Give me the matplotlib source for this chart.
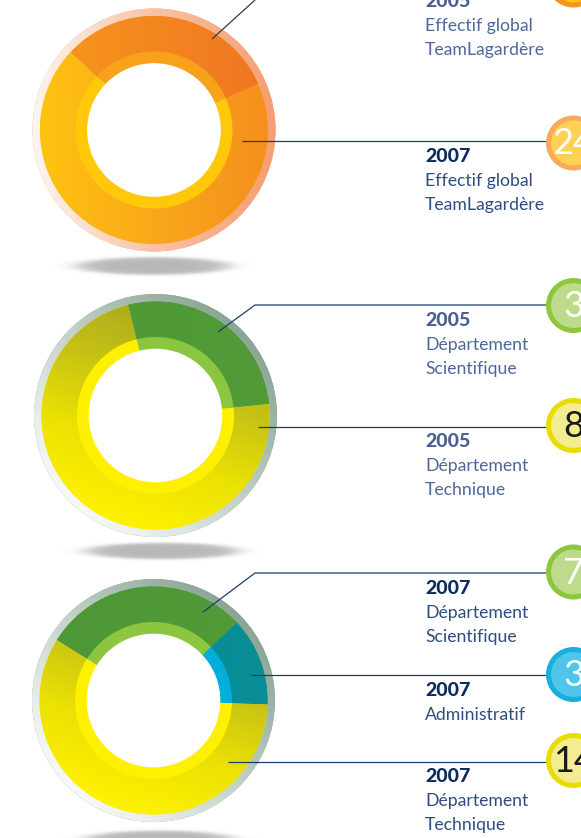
import numpy as np
import matplotlib
matplotlib.use('Agg')
import matplotlib.pyplot as plt
from matplotlib.colors import LinearSegmentedColormap
from matplotlib.patches import Circle

W, H = 581, 838

# ---------------- data ----------------
global_years = ['2005', '2007']
global_values = [11, 24]
global_label = 'Effectif global\nTeamLagardère'

dept2005_years = ['2005', '2005']
dept2005_labels = ['Département\nScientifique', 'Département\nTechnique']
dept2005_values = [3, 8]

dept2007_years = ['2007', '2007', '2007']
dept2007_labels = ['Département\nScientifique', 'Administratif', 'Département\nTechnique']
dept2007_values = [7, 3, 14]

# ---------------- styles ----------------
FONT = 'Lato'
C_2005 = '#4a5f92'
C_2007 = '#0c2b5c'
C_DESC05 = '#4d6898'
C_DESC07 = '#2e4d7e'
LINE_C = '#1f3c6c'

fig = plt.figure(figsize=(W / 100, H / 100), dpi=100)
ax = fig.add_axes([0, 0, 1, 1])
ax.set_xlim(0, W)
ax.set_ylim(0, H)
ax.axis('off')


def Y(ypx):
    return H - ypx


def gradient_in(patch, colors, angle, cx, cy, r, z):
    n = 240
    xs = np.linspace(-1, 1, n)
    X, Yg = np.meshgrid(xs, xs)
    a = np.deg2rad(angle)
    t = (X * np.cos(a) + Yg * np.sin(a) + 1) / 2
    cmap = LinearSegmentedColormap.from_list('g', colors)
    im = ax.imshow(t, cmap=cmap, vmin=0, vmax=1, origin='lower',
                   extent=(cx - r, cx + r, cy - r, cy + r), zorder=z,
                   interpolation='bilinear')
    im.set_clip_path(patch)


def shadow(cx, cy, a, b):
    n = 200
    xs = np.linspace(-1.4, 1.4, n)
    X, Yg = np.meshgrid(xs, xs)
    d = X ** 2 + Yg ** 2
    alpha = 0.62 / (1 + np.exp((d - 0.75) / 0.14))
    img = np.zeros((n, n, 4))
    img[..., :3] = 0.55
    img[..., 3] = alpha
    ax.imshow(img, origin='lower', extent=(cx - 1.4 * a, cx + 1.4 * a, Y(cy) - 1.4 * b, Y(cy) + 1.4 * b),
              zorder=0.5, interpolation='bilinear')


def donut(cx, cy, values, start, halo_cols, halo_ang, outer_specs, band_cols):
    c = (cx, Y(cy))
    halo = Circle(c, 121.5, fc=halo_cols[-1], ec='none', zorder=1)
    ax.add_patch(halo)
    gradient_in(halo, halo_cols, halo_ang, c[0], c[1], 122, 1.1)
    wedges, _ = ax.pie(values, radius=114, center=c, startangle=start, counterclock=False,
                       colors=[s[0][0] for s in outer_specs],
                       wedgeprops=dict(width=36, linewidth=0), frame=True)
    for w, (cols, ang) in zip(wedges, outer_specs):
        w.set_zorder(2)
        gradient_in(w, cols, ang, c[0], c[1], 115, 2.1)
    wb, _ = ax.pie(values, radius=78.5, center=c, startangle=start, counterclock=False,
                   colors=band_cols, wedgeprops=dict(width=12, linewidth=0), frame=True)
    for w in wb:
        w.set_zorder(3)
    ax.add_patch(Circle(c, 66.8, fc='white', ec='none', zorder=3.5))


GREEN_HALO = ['#f7f9f7', '#c3d1c7', '#8aa594']
YEL_GRAD = ['#fff200', '#ebe104', '#c4c015', '#a4a620']

# Donut 1: effectif global
shadow(153.5, 266, 86, 10)
donut(154, 130, global_values, 137,
      ['#fef5f0', '#f9c2a4', '#f59e73'], 0,
      [(['#f7981d', '#f07522'], 0),
       (['#fec30f', '#f9a81a', '#f58f1e'], 0)],
      ['#f8a21b', '#ffc90a'])

# Donut 2: 2005 departments
shadow(162, 551, 86, 9)
donut(155.5, 415.5, dept2005_values, 104,
      GREEN_HALO, 45,
      [(['#4e9837', '#529b38'], 0),
       (YEL_GRAD, 70)],
      ['#8cc540', '#fff000'])

# Donut 3: 2007 departments
shadow(159, 840, 86, 10)
donut(153.5, 700.5, dept2007_values, 148,
      GREEN_HALO, 45,
      [(['#4e9737', '#529b38'], 0),
       (['#008890', '#0a8f98'], 0),
       (YEL_GRAD, 70)],
      ['#8cc540', '#00addb', '#fff000'])

# ---------------- leader lines ----------------
def leader(pts, color=LINE_C):
    xs = [p[0] for p in pts]
    ys = [Y(p[1]) for p in pts]
    ax.plot(xs, ys, color=color, lw=0.9, zorder=4, solid_capstyle='butt')

XE = 548
leader([(212, 39), (255, 0), (258, -3)], '#3a3a3a')
leader([(242, 141), (XE, 141)])
leader([(218, 332), (255, 305), (XE, 305)])
leader([(258, 427), (XE, 427)])
leader([(203, 612), (255, 573), (XE, 573)])
leader([(251, 675), (XE, 675)])
leader([(228, 762), (XE, 762)])

# ---------------- text blocks ----------------
TX = 425
years = [global_years[0], global_years[1]] + dept2005_years + dept2007_years
descs = [global_label, global_label] + dept2005_labels + dept2007_labels
year_y = [2, 157, 321, 442, 589, 691, 777]
for yr, desc, yy in zip(years, descs, year_y):
    ycol = C_2005 if yr == '2005' else C_2007
    dcol = C_DESC05 if yr == '2005' else C_DESC07
    ax.text(TX, Y(yy), yr, color=ycol, fontsize=14, fontweight='black', family=FONT,
            ha='left', va='center', zorder=5)
    for k, line in enumerate(desc.split('\n')):
        ax.text(TX, Y(yy + 24 * (k + 1)), line, color=dcol, fontsize=12.7, family=FONT,
                ha='left', va='center', zorder=5)

# ---------------- badges ----------------
badge_values = global_values + dept2005_values + dept2007_values
badge_y = [-20, 143, 305.5, 425.5, 572, 674.5, 760.5]
badge_style = [('#f7941d', '#ffc20e', 'white'),
               ('#f8a95c', '#ffd052', 'white'),
               ('#8dc63f', '#bcdb8b', 'white'),
               ('#e8dc00', '#f3ec90', '#1a1a1a'),
               ('#8dc63f', '#bcdb8b', 'white'),
               ('#18aee0', '#50c5ea', 'white'),
               ('#e8dc00', '#f3ec90', '#1a1a1a')]
BX = 573.5
for v, by, (ring, fill, tcol) in zip(badge_values, badge_y, badge_style):
    ax.add_patch(Circle((BX, Y(by)), 25, fc=fill, ec=ring, lw=3.6, zorder=6))
    ax.text(BX, Y(by) - 1, str(v), color=tcol, fontsize=26, family=FONT,
            ha='center', va='center', zorder=7)

ax.set_xlim(0, W)
ax.set_ylim(0, H)
fig.savefig('out.png', dpi=100)
